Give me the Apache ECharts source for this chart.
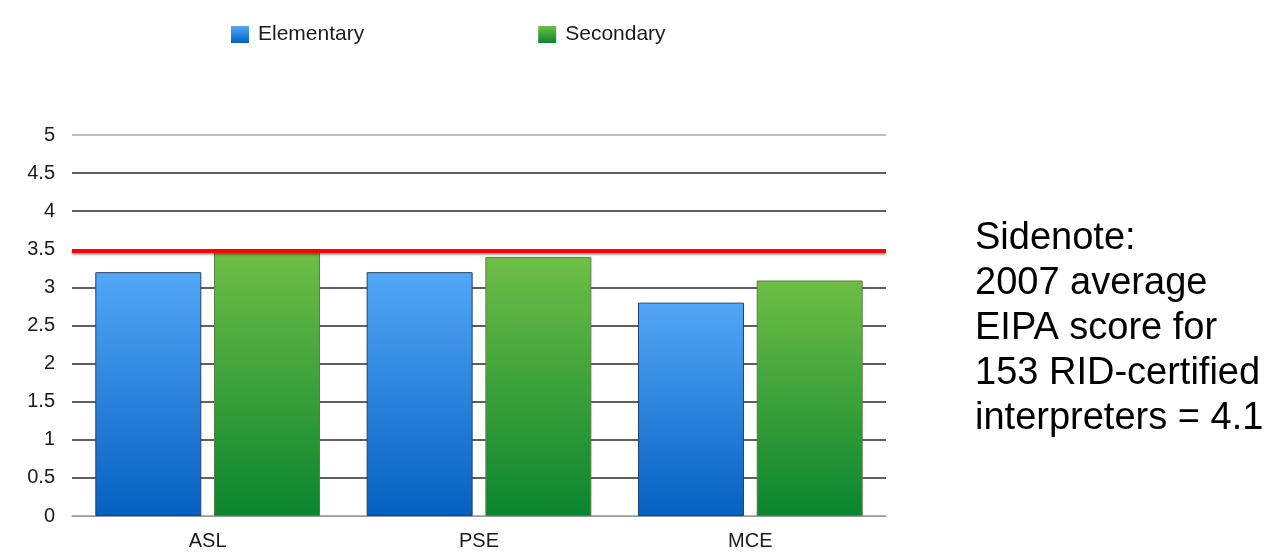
<!DOCTYPE html>
<html>
<head>
<meta charset="utf-8">
<title>EIPA scores</title>
<script src="https://cdn.jsdelivr.net/npm/echarts@6/dist/echarts.min.js"></script>
<style>
	html, body { margin: 0; padding: 0; background: #fff; }
	#main { width: 1272px; height: 554px; }
</style>
</head>
<body>
<div id="main"></div>
<script>
// data ----------------------------
var categories = ['ASL', 'PSE', 'MCE'];
var elementary = [3.2, 3.2, 2.8];
var secondary = [3.47, 3.4, 3.09];
var yTicks = [0, 0.5, 1, 1.5, 2, 2.5, 3, 3.5, 4, 4.5, 5];
var referenceScore = 3.48; // red line
var sidenoteLines = [
	'Sidenote:',
	'2007 average',
	'EIPA score for',
	'153 RID-certified',
	'interpreters = 4.1'
];

(function() {
	'use strict';

	var FONT = '"Liberation Sans", Arial, Helvetica, sans-serif';

	function vGrad(top, bottom) {
		return new echarts.graphic.LinearGradient(0, 0, 0, 1, [
			{ offset: 0, color: top },
			{ offset: 1, color: bottom }
		]);
	}

	// split line colours: axis at 0 and top line lighter
	var splitColors = yTicks.map(function(v, i) {
		if (i === 0) return '#9a9a9a';
		if (i === yTicks.length - 1) return '#a8a8a8';
		return '#2a2a2a';
	});

	var chart = echarts.init(document.getElementById('main'));

	var option = {
		animation: false,
		backgroundColor: '#ffffff',
		textStyle: { fontFamily: FONT },
		legend: {
			left: 226,
			top: 19,
			itemWidth: 18,
			itemHeight: 17,
			itemGap: 174,
			icon: 'rect',
			itemStyle: { borderWidth: 0 },
			textStyle: {
				fontSize: 21,
				color: '#1a1a1a',
				fontFamily: FONT,
				width: 114,
				padding: [0, 0, 0, 4]
			},
			data: ['Elementary', 'Secondary']
		},
		grid: {
			left: 72,
			right: 386,
			top: 135,
			bottom: 38,
			containLabel: false
		},
		xAxis: {
			type: 'category',
			data: categories,
			axisLine: { show: true, lineStyle: { color: '#9a9a9a', width: 1 } },
			axisTick: { show: false },
			axisLabel: {
				fontSize: 20,
				color: '#1a1a1a',
				margin: 15,
				fontFamily: FONT
			}
		},
		yAxis: {
			type: 'value',
			min: 0,
			max: 5,
			interval: 0.5,
			axisLine: { show: false },
			axisTick: { show: false },
			axisLabel: {
				fontSize: 20,
				color: '#1a1a1a',
				margin: 17,
				fontFamily: FONT
			},
			splitLine: {
				show: true,
				lineStyle: { color: splitColors, width: 1.6 }
			}
		},
		series: [
			{
				name: 'Elementary',
				type: 'bar',
				data: elementary,
				barWidth: 106,
				barGap: '12%',
				itemStyle: {
					color: vGrad('#52a7f7', '#0560c0'),
					borderColor: '#23406a',
					borderWidth: 1
				}
			},
			{
				name: 'Secondary',
				type: 'bar',
				data: secondary,
				barWidth: 106,
				itemStyle: {
					color: vGrad('#6fbe46', '#0a852f'),
					borderColor: '#55803f',
					borderWidth: 1
				},
				markLine: {
					silent: true,
					symbol: ['none', 'none'],
					label: { show: false },
					lineStyle: {
						color: '#ff0000',
						type: 'solid',
						width: 4,
						shadowColor: 'rgba(0,0,0,0.35)',
						shadowBlur: 2,
						shadowOffsetY: 2
					},
					data: [{ yAxis: referenceScore }]
				}
			}
		],
		graphic: [
			{
				type: 'text',
				left: 975,
				top: 216,
				style: {
					text: sidenoteLines.join('\n'),
					font: '38px ' + FONT,
					lineHeight: 45,
					fill: '#000000'
				}
			}
		]
	};

	chart.setOption(option);
}());
</script>
</body>
</html>
